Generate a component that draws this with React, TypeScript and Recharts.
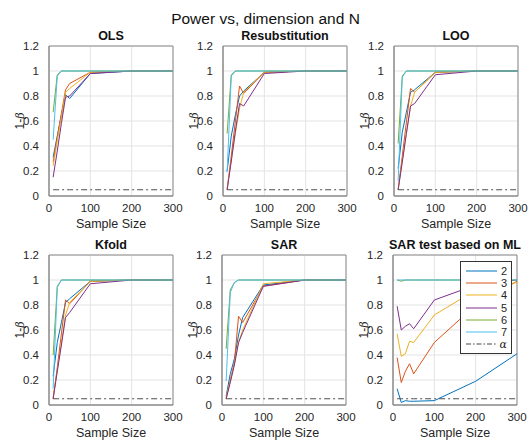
import {
  LineChart,
  Line,
  XAxis,
  YAxis,
  CartesianGrid,
  ReferenceArea,
  Legend,
} from "recharts";

const sampleSizes = [10, 20, 30, 40, 50, 100, 200, 300];
const dims = ["2", "3", "4", "5", "6", "7"];
const alphaLevel = 0.05;
const xTicks = [0, 100, 200, 300];
const yTicks = [0, 0.2, 0.4, 0.6, 0.8, 1, 1.2];

// one row per dimension (2..7), one value per sample size
const olsPower = [
  [0.31, 0.48, 0.65, 0.81, 0.78, 0.98, 1, 1],
  [0.27, 0.47, 0.66, 0.85, 0.9, 0.99, 1, 1],
  [0.24, 0.44, 0.63, 0.83, 0.86, 0.99, 1, 1],
  [0.15, 0.36, 0.58, 0.79, 0.8, 0.98, 1, 1],
  [0.67, 0.97, 1, 1, 1, 1, 1, 1],
  [0.45, 0.96, 1, 1, 1, 1, 1, 1],
];
const resubPower = [
  [0.2, 0.48, 0.65, 0.8, 0.84, 0.99, 1, 1],
  [0.05, 0.32, 0.6, 0.88, 0.82, 0.99, 1, 1],
  [0.06, 0.28, 0.5, 0.7, 0.83, 0.99, 1, 1],
  [0.05, 0.28, 0.52, 0.74, 0.72, 0.98, 1, 1],
  [0.5, 0.97, 1, 1, 1, 1, 1, 1],
  [0.19, 0.96, 1, 1, 1, 1, 1, 1],
];
const looPower = [
  [0.22, 0.51, 0.67, 0.83, 0.85, 0.99, 1, 1],
  [0.05, 0.32, 0.59, 0.86, 0.83, 0.99, 1, 1],
  [0.05, 0.28, 0.5, 0.72, 0.83, 0.99, 1, 1],
  [0.05, 0.27, 0.5, 0.72, 0.74, 0.97, 1, 1],
  [0.42, 0.96, 1, 1, 1, 1, 1, 1],
  [0.12, 0.95, 1, 1, 1, 1, 1, 1],
];
const kfoldPower = [
  [0.23, 0.5, 0.66, 0.82, 0.85, 0.99, 1, 1],
  [0.05, 0.3, 0.57, 0.84, 0.81, 0.99, 1, 1],
  [0.06, 0.27, 0.5, 0.72, 0.82, 0.99, 1, 1],
  [0.05, 0.27, 0.48, 0.7, 0.74, 0.97, 1, 1],
  [0.4, 0.95, 1, 1, 1, 1, 1, 1],
  [0.13, 0.94, 1, 1, 1, 1, 1, 1],
];
const sarPower = [
  [0.07, 0.25, 0.37, 0.56, 0.7, 0.96, 1, 1],
  [0.05, 0.2, 0.34, 0.71, 0.66, 0.95, 1, 1],
  [0.06, 0.19, 0.33, 0.5, 0.6, 0.97, 1, 1],
  [0.05, 0.18, 0.32, 0.5, 0.58, 0.95, 1, 1],
  [0.45, 0.92, 0.98, 1, 1, 1, 1, 1],
  [0.19, 0.9, 0.98, 1, 1, 1, 1, 1],
];
const mlPower = [
  [0.13, 0.02, 0.035, 0.03, 0.03, 0.035, 0.19, 0.41],
  [0.38, 0.18, 0.27, 0.33, 0.25, 0.5, 0.8, 0.99],
  [0.57, 0.39, 0.41, 0.51, 0.5, 0.72, 0.92, 0.98],
  [0.79, 0.6, 0.63, 0.65, 0.61, 0.84, 0.96, 1],
  [1, 0.99, 1, 1, 1, 1, 1, 1],
  [1, 1, 1, 1, 1, 1, 1, 1],
];

const colors = ["#0072BD", "#D95319", "#EDB120", "#7E2F8E", "#77AC30", "#4DBEEE"];
const font = '"Liberation Sans", Arial, Helvetica, sans-serif';
const serif = '"DejaVu Serif", "Liberation Serif", serif';

const toRows = (power: number[][]) =>
  sampleSizes.map((n, i) => {
    const row: Record<string, number> = { n, alpha: alphaLevel };
    dims.forEach((d, k) => (row["d" + d] = power[k][i]));
    return row;
  });

const MlLegend = () => (
  <div
    style={{
      border: "1px solid #333",
      background: "#fff",
      padding: "3px 4px 3px 4px",
      fontFamily: font,
      fontSize: 11,
      color: "#262626",
      boxSizing: "border-box",
    }}
  >
    {[...dims, "α"].map((d, k) => (
      <div key={d} style={{ display: "flex", alignItems: "center", height: 12.2 }}>
        <svg width={32} height={6} style={{ marginLeft: 1 }}>
          <line
            x1={0}
            y1={3}
            x2={31}
            y2={3}
            stroke={k < 6 ? colors[k] : "#444"}
            strokeWidth={1}
            strokeDasharray={k < 6 ? undefined : "5 2 1.5 2"}
          />
        </svg>
        <span
          style={{
            flex: 1,
            textAlign: "right",
            fontStyle: k < 6 ? "normal" : "italic",
            fontFamily: k < 6 ? font : serif,
          }}
        >
          {d}
        </span>
      </div>
    ))}
  </div>
);

function Panel({
  title,
  power,
  left,
  top,
  legend,
}: {
  title: string;
  power: number[][];
  left: number;
  top: number;
  legend?: boolean;
}) {
  const rows = toRows(power);
  return (
    <div style={{ position: "absolute", left, top, width: 190, height: 230 }}>
      <div
        style={{
          position: "absolute",
          left: 49,
          width: 124,
          top: 29,
          fontWeight: "bold",
          fontSize: 12.5,
          fontFamily: font,
          color: "#111",
          whiteSpace: "nowrap",
          display: "flex",
          justifyContent: "center",
          zIndex: 2,
        }}
      >
        {title}
      </div>
      <div
        style={{
          position: "absolute",
          left: 20,
          top: 121,
          transform: "translate(-50%, -50%) rotate(-90deg)",
          fontSize: 12,
          lineHeight: "14px",
          color: "#262626",
          fontFamily: font,
          whiteSpace: "nowrap",
          zIndex: 2,
        }}
      >
        1-<span style={{ fontStyle: "italic", fontFamily: serif, fontSize: 11 }}>β</span>
      </div>
      <LineChart
        width={190}
        height={240}
        data={rows}
        margin={{ top: 46, right: 17, left: 0, bottom: 10 }}
        style={{ fontFamily: font }}
      >
        <CartesianGrid stroke="#e3e3e3" />
        <XAxis
          dataKey="n"
          type="number"
          domain={[0, 300]}
          ticks={xTicks}
          height={34}
          tickLine={false}
          axisLine={{ stroke: "#8c8c8c" }}
          tick={{ fontSize: 11.5, fill: "#262626" }}
          tickMargin={2}
          interval={0}
          label={{
            value: "Sample Size",
            position: "insideBottom",
            offset: 2,
            fontSize: 12.5,
            fill: "#262626",
          }}
        />
        <YAxis
          type="number"
          domain={[0, 1.2]}
          ticks={yTicks}
          width={49}
          tickLine={false}
          axisLine={{ stroke: "#8c8c8c" }}
          tick={{ fontSize: 11.5, fill: "#262626" }}
          tickMargin={4}
          interval={0}
        />
        <ReferenceArea
          x1={0}
          x2={300}
          y1={0}
          y2={1.2}
          fill="none"
          fillOpacity={0}
          stroke="#8c8c8c"
          strokeOpacity={1}
        />
        {dims.map((d, k) => (
          <Line
            key={d}
            dataKey={"d" + d}
            name={d}
            stroke={colors[k]}
            strokeWidth={1}
            dot={false}
            isAnimationActive={false}
            type="linear"
          />
        ))}
        <Line
          dataKey="alpha"
          name="α"
          stroke="#4d4d4d"
          strokeWidth={1}
          strokeDasharray="6 3 2 3"
          dot={false}
          isAnimationActive={false}
        />
        {legend && (
          <Legend
            layout="horizontal"
            verticalAlign="middle"
            align="center"
            wrapperStyle={{ top: 52, left: 116, width: 52, height: 91 }}
            content={<MlLegend />}
          />
        )}
      </LineChart>
    </div>
  );
}

export default function App() {
  return (
    <div
      style={{
        position: "absolute",
        left: 0,
        top: 0,
        width: 531,
        height: 440,
        overflow: "hidden",
        background: "#fff",
        fontFamily: font,
      }}
    >
      <div
        style={{
          position: "absolute",
          left: 0,
          width: 531,
          top: 10,
          textAlign: "center",
          fontSize: 15.5,
          color: "#111",
        }}
      >
        Power vs, dimension and N
      </div>
      <Panel title="OLS" power={olsPower} left={0} top={0} />
      <Panel title="Resubstitution" power={resubPower} left={174} top={0} />
      <Panel title="LOO" power={looPower} left={345} top={0} />
      <Panel title="Kfold" power={kfoldPower} left={0} top={209} />
      <Panel title="SAR" power={sarPower} left={173} top={209} />
      <Panel title="SAR test based on ML" power={mlPower} left={344} top={209} legend />
    </div>
  );
}
